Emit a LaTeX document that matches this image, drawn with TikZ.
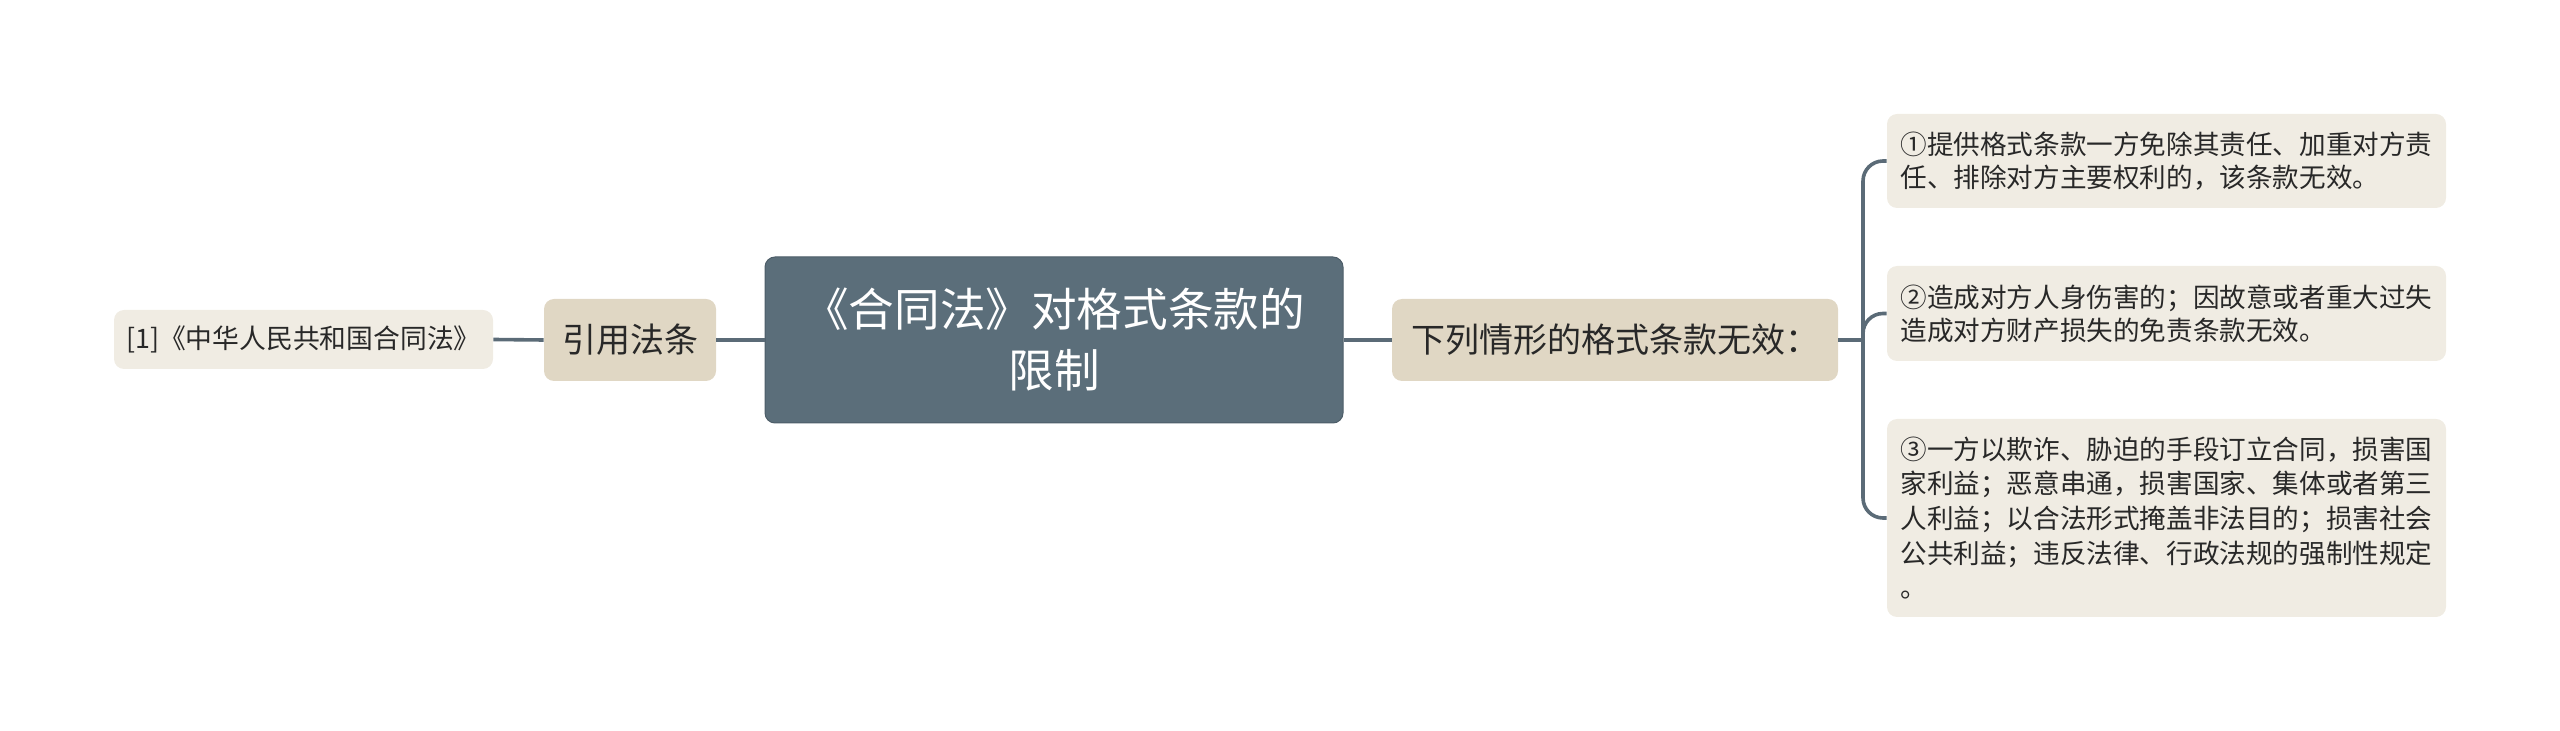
\documentclass[tikz,border=0pt]{standalone}
\usepackage{fontspec}
\setmainfont{Noto Sans CJK SC}
\definecolor{mainfill}{RGB}{91,110,122}
\definecolor{midfill}{RGB}{224,215,196}
\definecolor{leaffill}{RGB}{240,236,227}
\definecolor{linecol}{RGB}{91,107,119}
\definecolor{txt}{RGB}{40,40,40}
\begin{document}
\begin{tikzpicture}[x=0.5pt,y=-0.5pt,
  box/.style={rounded corners=5pt, inner sep=0pt, align=center, text=txt},
  mainbox/.style={box, fill=mainfill, draw=mainfill!85!black, line width=0.5pt, text=white, font=\fontsize{22.8}{30.5}\selectfont},
  midbox/.style={box, fill=midfill, font=\fontsize{17}{22}\selectfont},
  leafbox/.style={box, fill=leaffill, align=left, font=\fontsize{13.3}{16.5}\selectfont},
  conn/.style={draw=linecol, line width=1.8pt}]
\useasboundingbox (0,0) rectangle (2560,731);
\node[leafbox, minimum width=189.5pt, minimum height=29.5pt, font=\fontsize{13.4}{16}\selectfont] (ref) at (303.5,339.5) {[1]《中华人民共和国合同法》};
\node[midbox, minimum width=86pt, minimum height=41pt] (cite) at (630,340) {引用法条};
\node[mainbox, minimum width=289pt, minimum height=83pt] (main) at (1054,340) {《合同法》对格式条款的\\限制};
\node[midbox, minimum width=223pt, minimum height=41pt] (mid) at (1615,340) {下列情形的格式条款无效：};
\node[leafbox, minimum width=279.5pt, minimum height=47pt] (r1) at (2166.5,161) {①提供格式条款一方免除其责任、加重对方责\\任、排除对方主要权利的，该条款无效。};
\node[leafbox, minimum width=279.5pt, minimum height=47.5pt] (r2) at (2166.5,313.5) {②造成对方人身伤害的；因故意或者重大过失\\造成对方财产损失的免责条款无效。};
\node[leafbox, minimum width=279.5pt, minimum height=99pt, font=\fontsize{13.3}{17.3}\selectfont] (r3) at (2166.5,518) {③一方以欺诈、胁迫的手段订立合同，损害国\\家利益；恶意串通，损害国家、集体或者第三\\人利益；以合法形式掩盖非法目的；损害社会\\公共利益；违反法律、行政法规的强制性规定\\。};
\coordinate (j) at (1863,340);
\draw[conn] (ref.east) -- (cite.west);
\draw[conn] (cite.east) -- (main.west);
\draw[conn] (main.east) -- (mid.west);
\draw[conn] (mid.east) -- (j);
\draw[conn, rounded corners=10pt] (j) |- (r1.west);
\draw[conn, rounded corners=10pt] (j) |- (r2.west);
\draw[conn, rounded corners=10pt] (j) |- (r3.west);
\end{tikzpicture}
\end{document}
